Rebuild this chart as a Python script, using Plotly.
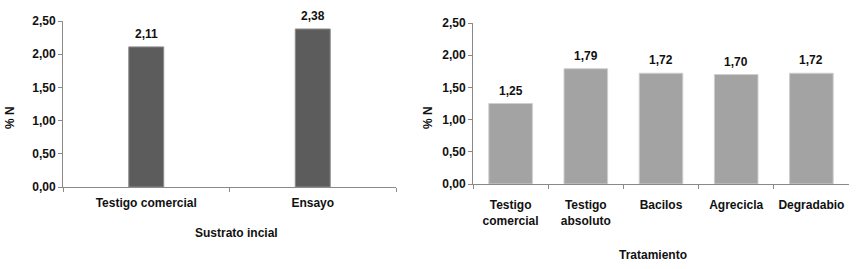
import plotly.graph_objects as go

# Data
left_categories = ["Testigo comercial", "Ensayo"]
left_values = [2.11, 2.38]
right_categories = ["Testigo<br>comercial", "Testigo<br>absoluto", "Bacilos", "Agrecicla", "Degradabio"]
right_values = [1.25, 1.79, 1.72, 1.70, 1.72]
y_ticks = [0, 0.5, 1.0, 1.5, 2.0, 2.5]

FONT = "Liberation Sans Narrow, Arial Narrow, Liberation Sans, sans-serif"
W, H = 860, 269

def fmt(v):
    return f"{v:.2f}".replace(".", ",")

fig = go.Figure()
fig.add_trace(go.Bar(
    x=left_categories, y=left_values, xaxis="x", yaxis="y",
    marker=dict(color="#5c5c5c", line=dict(color="#8c8c8c", width=1)),
    width=0.21, hoverinfo="x+y",
))
fig.add_trace(go.Bar(
    x=right_categories, y=right_values, xaxis="x2", yaxis="y2",
    marker=dict(color="#a3a3a3", line=dict(color="#cfcfcf", width=1)),
    width=0.58, hoverinfo="x+y",
))

tfont = dict(family=FONT, size=12, color="#111", weight="bold")
axis_common = dict(showgrid=False, zeroline=False, showline=True, linecolor="#8a8a8a", linewidth=1,
                   ticks="outside", tickcolor="#8a8a8a", ticklen=4, automargin=False,
                   tickfont=tfont)

def px_x(p):
    return p / W

def px_y(p):
    return (H - p) / H

afont = dict(family=FONT, size=12, color="#111")
annotations = [
    dict(text="<b>% N</b>", x=px_x(10), y=px_y(118), textangle=-90),
    dict(text="<b>% N</b>", x=px_x(428), y=px_y(118), textangle=-90),
    dict(text="<b>Sustrato incial</b>", x=px_x(237), y=px_y(233)),
    dict(text="<b>Tratamiento</b>", x=px_x(653), y=px_y(255)),
]
for a in annotations:
    a.update(xref="paper", yref="paper", xanchor="center", yanchor="middle",
             showarrow=False, font=afont)
for c, v in zip(left_categories, left_values):
    annotations.append(dict(text=f"<b>{fmt(v)}</b>", x=c, y=v, xref="x", yref="y",
                            xanchor="center", yanchor="bottom", yshift=4, showarrow=False,
                            font=afont))
for c, v in zip(right_categories, right_values):
    annotations.append(dict(text=f"<b>{fmt(v)}</b>", x=c, y=v, xref="x2", yref="y2",
                            xanchor="center", yanchor="bottom", yshift=4, showarrow=False,
                            font=afont))

fig.update_layout(
    width=W, height=H, margin=dict(l=0, r=0, t=0, b=0),
    paper_bgcolor="white", plot_bgcolor="white", showlegend=False,
    separators=",.",
    font=dict(family=FONT, size=12, color="#111"),
    xaxis=dict(domain=[px_x(63), px_x(396)], anchor="y", tickson="boundaries",
               ticklabelstandoff=5, **axis_common),
    yaxis=dict(domain=[px_y(187), px_y(21)], anchor="x", range=[0, 2.5], tickvals=y_ticks,
               tickformat=".2f", **axis_common),
    xaxis2=dict(domain=[px_x(473), px_x(849)], anchor="y2", tickson="boundaries",
                ticklabelstandoff=10, **axis_common),
    yaxis2=dict(domain=[px_y(184), px_y(23)], anchor="x2", range=[0, 2.5], tickvals=y_ticks,
                tickformat=".2f", **axis_common),
    annotations=annotations,
)

fig.write_html("out.html", config={"displayModeBar": False},
               post_script="document.body.style.margin='0';document.body.style.overflow='hidden';")
